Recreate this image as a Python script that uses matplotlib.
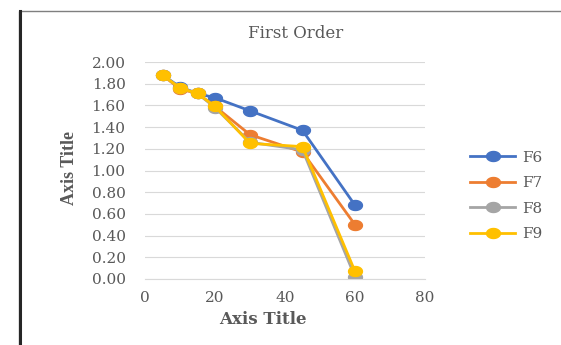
import numpy as np
import matplotlib.pyplot as plt
from matplotlib.path import Path
from matplotlib.patches import Rectangle

# Datos de primer orden
tiempo = [5, 10, 15, 20, 30, 45, 60]
f6 = [1.88, 1.77, 1.71, 1.67, 1.55, 1.37, 0.68]
f7 = [1.88, 1.75, 1.71, 1.59, 1.33, 1.17, 0.50]
f8 = [1.88, 1.76, 1.71, 1.58, 1.26, 1.19, 0.02]
f9 = [1.88, 1.76, 1.71, 1.59, 1.25, 1.22, 0.07]
series = {"F6": f6, "F7": f7, "F8": f8, "F9": f9}
colores = ["#4472C4", "#ED7D31", "#A5A5A5", "#FFC000"]

plt.rcParams["font.family"] = ["DejaVu Serif"]
texto = "#595959"

# marcador ovalado (más ancho que alto)
t = np.linspace(0, 2 * np.pi, 40)
ovalo = Path(np.column_stack([np.cos(t), 0.72 * np.sin(t)]), closed=True)

fig = plt.figure(figsize=(5.61, 3.45), dpi=100)

# Marco del gráfico
fig.patches.append(Rectangle((19 / 561, -0.1), 1.2, 1 - 11 / 345 + 0.1,
                             transform=fig.transFigure, fill=False,
                             edgecolor="#7f7f7f", linewidth=1.0))
fig.add_artist(plt.Line2D([20 / 561, 20 / 561], [0, 1 - 11 / 345],
                          transform=fig.transFigure, color="#262626", linewidth=2.2))

ax = fig.add_axes([145 / 561, 1 - 279 / 345, 280 / 561, 217 / 345])

for (nombre, valores), color in zip(series.items(), colores):
    ax.plot(tiempo, valores, color=color, linewidth=2.0, marker=ovalo,
            markersize=10, label=nombre)

ax.set_xlim(0, 80)
ax.set_ylim(0, 2.0)
ax.set_xticks([0, 20, 40, 60, 80])
ax.set_yticks([i * 0.2 for i in range(11)])
ax.set_yticklabels([f"{i * 0.2:.2f}" for i in range(11)])
ax.grid(axis="y", color="#d9d9d9", linewidth=0.8)
ax.set_axisbelow(True)
for lado in ["top", "right", "left"]:
    ax.spines[lado].set_visible(False)
ax.spines["bottom"].set_color("#d9d9d9")
ax.tick_params(length=0, labelsize=11, colors=texto)
ax.tick_params(axis="y", pad=14)
ax.tick_params(axis="x", pad=9)

fig.text(296 / 561, 1 - 33 / 345, "First Order", fontsize=12, color=texto,
         ha="center", va="center")
fig.text(263 / 561, 1 - 320 / 345, "Axis Title", fontsize=12, color=texto,
         fontweight="bold", ha="center", va="center")
fig.text(69 / 561, 1 - 168 / 345, "Axis Title", fontsize=13, color=texto,
         fontweight="bold", family="Liberation Serif", rotation=90,
         ha="center", va="center")

fig.legend(loc="center left", bbox_to_anchor=(470 / 561, 1 - 196 / 345),
           frameon=False, fontsize=11, handlelength=2.95, labelspacing=0.75,
           handletextpad=0.45, borderpad=0, borderaxespad=0, labelcolor=texto)

fig.savefig("out.png", dpi=100)
